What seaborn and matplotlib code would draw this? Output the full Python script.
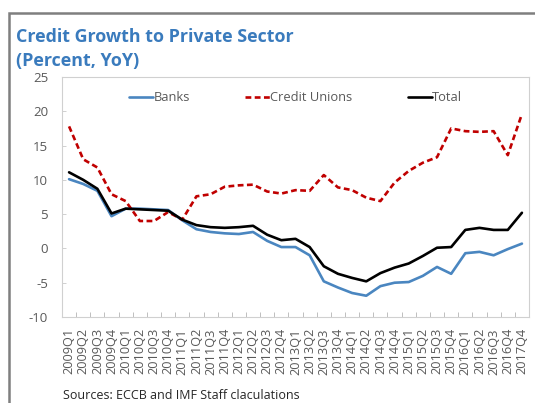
import matplotlib
matplotlib.use("Agg")
import matplotlib.pyplot as plt
from matplotlib.patches import Rectangle
from matplotlib.lines import Line2D
import numpy as np
import pandas as pd
import seaborn as sns

quarters = [
    "2009Q1", "2009Q2", "2009Q3", "2009Q4",
    "2010Q1", "2010Q2", "2010Q3", "2010Q4",
    "2011Q1", "2011Q2", "2011Q3", "2011Q4",
    "2012Q1", "2012Q2", "2012Q3", "2012Q4",
    "2013Q1", "2013Q2", "2013Q3", "2013Q4",
    "2014Q1", "2014Q2", "2014Q3", "2014Q4",
    "2015Q1", "2015Q2", "2015Q3", "2015Q4",
    "2016Q1", "2016Q2", "2016Q3", "2016Q4",
    "2017Q4",
]

banks = [10.1, 9.4, 8.4, 4.7, 5.8, 5.8, 5.7, 5.6, 4.1, 2.8, 2.4, 2.2,
         2.1, 2.4, 1.1, 0.2, 0.2, -1.0, -4.8, -5.7, -6.5, -6.9, -5.5, -5.0,
         -4.9, -4.0, -2.7, -3.7, -0.7, -0.5, -1.0, -0.1, 0.7]

credit_unions = [17.8, 13.0, 11.8, 7.9, 6.9, 4.0, 4.0, 5.3, 4.2, 7.6, 7.9, 9.0,
                 9.2, 9.3, 8.3, 8.0, 8.5, 8.4, 10.7, 8.9, 8.5, 7.4, 6.9, 9.6,
                 11.3, 12.5, 13.3, 17.5, 17.1, 17.0, 17.1, 13.6, 19.6]

total = [11.1, 10.0, 8.7, 5.1, 5.8, 5.7, 5.6, 5.5, 4.2, 3.4, 3.1, 3.0,
         3.1, 3.3, 2.0, 1.2, 1.4, 0.2, -2.6, -3.7, -4.3, -4.8, -3.6, -2.8,
         -2.2, -1.1, 0.1, 0.2, 2.7, 3.0, 2.7, 2.7, 5.2]

y_ticks = [-10, -5, 0, 5, 10, 15, 20, 25]

series_names = ["Banks", "Credit Unions", "Total"]
series_colors = {"Banks": "#4A86C0", "Credit Unions": "#C00000", "Total": "#000000"}
cu_dashes = (2.2, 1.3)

sns.set_theme(style="white")
plt.rcParams["font.family"] = ["Open Sans", "DejaVu Sans"]

pos = np.arange(len(quarters))
df = pd.DataFrame({
    "pos": np.concatenate([pos, pos, pos]),
    "value": banks + credit_unions + total,
    "series": [series_names[0]] * len(pos) + [series_names[1]] * len(pos) + [series_names[2]] * len(pos),
})

fig = plt.figure(figsize=(5.35, 4.03), dpi=100)
ax = fig.add_axes([62 / 535, 1 - 317 / 403, (529 - 62) / 535, (317 - 77) / 403])

sns.lineplot(
    data=df, x="pos", y="value", hue="series", style="series",
    hue_order=series_names, style_order=series_names,
    palette=series_colors,
    dashes={"Banks": "", "Credit Unions": cu_dashes, "Total": ""},
    linewidth=1.9, ax=ax, legend=False,
)

ax.set_xlim(-0.5, len(quarters) - 0.5)
ax.set_ylim(-10, 25)
ax.set_yticks(y_ticks)
ax.set_yticklabels([str(v) for v in y_ticks])
ax.set_xticks(pos)
ax.set_xticklabels(quarters, rotation=90)
ax.set_xticks(np.arange(-0.5, len(quarters), 1.0), minor=True)
ax.set_xlabel("")
ax.set_ylabel("")

for side in ["left", "right", "top", "bottom"]:
    ax.spines[side].set_visible(True)
    ax.spines[side].set_color("#D0D0D0")
    ax.spines[side].set_linewidth(0.8)

ax.tick_params(axis="x", which="major", length=0, pad=8, labelsize=9.2, labelcolor="#595959")
ax.tick_params(axis="x", which="minor", direction="in", length=3.5, width=0.7, color="#BFBFBF", bottom=True)
ax.tick_params(axis="y", which="major", direction="in", length=3, width=0.7, color="#D0D0D0",
               left=True, pad=10, labelsize=9.5, labelcolor="#595959")

# legend across the top of the plotting area
handles = [
    Line2D([], [], color=series_colors["Banks"], lw=1.9),
    Line2D([], [], color=series_colors["Credit Unions"], lw=1.9, dashes=cu_dashes),
    Line2D([], [], color=series_colors["Total"], lw=1.9),
]
ax.legend(handles, series_names, ncol=3, loc="upper center", bbox_to_anchor=(0.5, 0.99),
          frameon=False, handlelength=1.9, handletextpad=0.0, columnspacing=4.3,
          fontsize=9.3, labelcolor="#595959")

fig.text(16 / 535, 1 - 42 / 403, "Credit Growth to Private Sector", fontsize=12.9,
         fontweight="bold", color="#3A7BBD", va="baseline", ha="left")
fig.text(16 / 535, 1 - 66 / 403, "(Percent, YoY)", fontsize=12.9,
         fontweight="bold", color="#3A7BBD", va="baseline", ha="left")
fig.text(63 / 535, 1 / 403, "Sources: ECCB and IMF Staff claculations", fontsize=9,
         color="#262626", va="bottom", ha="left")

fig.add_artist(Rectangle((9 / 535, -0.2), 1.2, 1 - 13 / 403 + 0.2, transform=fig.transFigure,
                         fill=False, edgecolor="#7F7F7F", linewidth=1.8, clip_on=False))

fig.savefig("out.png", dpi=100)
